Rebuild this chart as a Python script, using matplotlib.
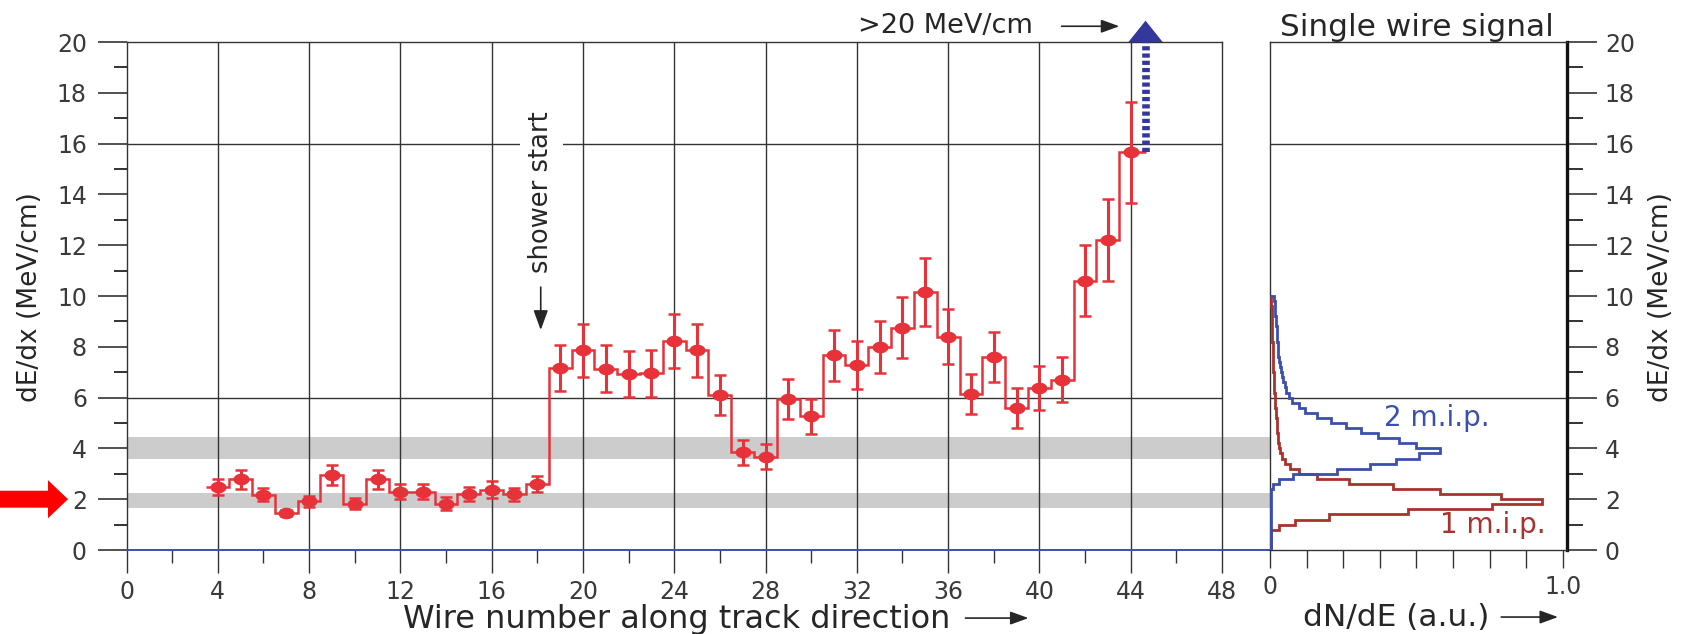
import numpy as np
import matplotlib
matplotlib.use("Agg")
import matplotlib.pyplot as plt
from matplotlib.transforms import blended_transform_factory
from matplotlib.patches import Rectangle, Polygon
from matplotlib.lines import Line2D
from matplotlib.ticker import FixedLocator

# ---- dE/dx measured on each wire along the track ----
wire = np.arange(4, 45)
dedx = [2.49, 2.78, 2.18, 1.45, 1.92, 2.95, 1.83, 2.78, 2.30, 2.30,
        1.83, 2.20, 2.38, 2.20, 2.60, 7.17, 7.86, 7.14, 6.92, 6.95,
        8.22, 7.86, 6.10, 3.84, 3.68, 5.95, 5.26, 7.66, 7.28, 7.99,
        8.75, 10.15, 8.40, 6.14, 7.60, 5.59, 6.38, 6.71, 10.60, 12.20,
        15.65]
dedx_err = [0.32, 0.36, 0.26, 0.13, 0.22, 0.38, 0.22, 0.37, 0.30, 0.28,
            0.24, 0.28, 0.32, 0.26, 0.33, 0.92, 1.04, 0.93, 0.90, 0.93,
            1.07, 1.05, 0.80, 0.50, 0.50, 0.78, 0.70, 1.00, 0.95, 1.04,
            1.20, 1.35, 1.08, 0.80, 1.00, 0.77, 0.85, 0.90, 1.40, 1.60,
            2.00]
overflow_x = 44.65          # last wire saturates: >20 MeV/cm

# ---- single wire signal: dN/dE (a.u.) in dE/dx bins ----
sig_edges = np.arange(0, 10.01, 0.2)
mip1 = [0.003, 0.003, 0.003, 0.004, 0.030, 0.085, 0.20, 0.47, 0.76, 0.93,
        0.79, 0.58, 0.42, 0.27, 0.16, 0.10, 0.068, 0.050, 0.040, 0.034,
        0.031, 0.029, 0.027, 0.025, 0.024, 0.023, 0.021, 0.020, 0.018, 0.017,
        0.016, 0.015, 0.014, 0.013, 0.012, 0.011, 0.011, 0.010, 0.010, 0.009,
        0.009, 0.008, 0.008, 0.007, 0.007, 0.006, 0.006, 0.006, 0.005, 0.005]
mip2 = [0.004, 0.004, 0.004, 0.004, 0.004, 0.004, 0.004, 0.004, 0.004, 0.004,
        0.004, 0.004, 0.010, 0.030, 0.080, 0.23, 0.34, 0.43, 0.51, 0.58,
        0.50, 0.44, 0.37, 0.31, 0.26, 0.21, 0.16, 0.12, 0.10, 0.075,
        0.065, 0.055, 0.050, 0.045, 0.040, 0.036, 0.033, 0.030, 0.028, 0.027,
        0.026, 0.025, 0.024, 0.023, 0.021, 0.020, 0.018, 0.017, 0.016, 0.015]

# reference bands (1 and 2 m.i.p.)
bands = [(1.67, 2.23), (3.60, 4.43)]

x_ticks = np.arange(0, 49, 4)
y_ticks = np.arange(0, 21, 2)

RED = '#e8323a'
DARKRED = '#a8322d'
BLUE = '#3a4fae'
NAVY = '#34389a'
GRID = '#333333'
TXT = '#262626'
TICKC = '#3a3a3a'

plt.rcParams['font.family'] = ['DejaVu Sans']

W, H = 1682, 634
fig = plt.figure(figsize=(W / 100, H / 100), dpi=100)
fig.patch.set_facecolor('white')

ax = fig.add_axes([126.5 / W, 84 / H, 1095.5 / W, 508 / H])
ax2 = fig.add_axes([1270 / W, 84 / H, 296.7 / W, 508 / H])

ARROW = dict(arrowstyle='-|>,head_length=0.55,head_width=0.2', color=TXT,
             lw=1.2, shrinkA=0, shrinkB=0, mutation_scale=20)

# ------------------------------------------------------------ left panel
ax.set_xlim(0, 48)
ax.set_ylim(0, 20)
ax.set_xticks(x_ticks)
ax.set_xticks(np.arange(2, 48, 4), minor=True)
ax.set_yticks(y_ticks)
ax.set_yticks(np.arange(1, 20, 2), minor=True)
ax.tick_params(axis='x', which='major', direction='out', length=16.5, width=1.0,
               pad=5, labelsize=17, labelcolor=TICKC, color=GRID)
ax.tick_params(axis='x', which='minor', direction='out', length=9.4, width=1.0, color=GRID)
ax.tick_params(axis='y', which='major', direction='out', length=21, width=1.2,
               pad=7.5, labelsize=17, labelcolor=TICKC, color=GRID)
ax.tick_params(axis='y', which='minor', direction='out', length=9.1, width=1.4, color=GRID)
for s in ('top', 'right', 'left'):
    ax.spines[s].set_linewidth(1.0)
    ax.spines[s].set_color(GRID)
ax.spines['bottom'].set_visible(False)

for xv in x_ticks[1:-1]:
    ax.axvline(xv, color=GRID, lw=1.0, zorder=1)
for yv in (6, 16):
    ax.axhline(yv, color=GRID, lw=1.0, zorder=1)

# bands and baseline run through the gap up to the signal panel
trans = blended_transform_factory(fig.transFigure, ax.transData)
x_start = ax.get_position().x0
x_end = ax2.get_position().x0
for lo, hi in bands:
    ax.add_patch(Rectangle((x_start, lo), x_end - x_start, hi - lo, transform=trans,
                           facecolor='#cccccc', edgecolor='none', zorder=0.5, clip_on=False))
ax.add_line(Line2D([x_start, x_end], [0, 0], transform=trans, color=BLUE, lw=1.4,
                   zorder=3, clip_on=False))

# red marker arrow at the 1 m.i.p. level
ax.annotate('', xy=(68 / W, 2), xycoords=trans, xytext=(0.0, 2), textcoords=trans,
            arrowprops=dict(arrowstyle='simple,head_length=1.44,head_width=2.74,tail_width=1.22',
                            fc='#ff0000', ec='none', mutation_scale=10, shrinkA=0, shrinkB=0),
            annotation_clip=False)

# measured dE/dx
edges = np.append(wire - 0.5, overflow_x)
ax.stairs(dedx, edges, baseline=None, color=RED, lw=1.8, zorder=4)
ax.errorbar(wire, dedx, yerr=dedx_err, fmt='none', ecolor=RED, elinewidth=2.2,
            capsize=4, capthick=1.8, zorder=5)
t = np.linspace(0, 2 * np.pi, 40)
ellipse = np.column_stack([np.cos(t), 0.7 * np.sin(t)])
ax.plot(wire, dedx, ls='none', marker=ellipse, ms=10.5, color=RED, zorder=6)

# saturated last wire
ax.plot([overflow_x, overflow_x], [dedx[-1], 20], color=NAVY, lw=5.5,
        ls=(0, (0.55, 0.4)), dash_capstyle='butt', clip_on=False, zorder=6)
ax.add_patch(Polygon([[overflow_x - 0.75, 20], [overflow_x + 0.75, 20], [overflow_x, 20.84]],
                     closed=True, facecolor=NAVY, edgecolor='none', clip_on=False, zorder=7))
ax.text(35.9, 20.35, '>20 MeV/cm', ha='center', va='baseline', fontsize=19.5, color=TXT)
ax.annotate('', xy=(43.5, 20.62), xytext=(40.97, 20.62), arrowprops=ARROW,
            annotation_clip=False)

# shower start marker
ax.text(18.18, 14.07, 'shower start', rotation=90, ha='center', va='center',
        fontsize=18.5, color=TXT, zorder=3,
        bbox=dict(facecolor='white', edgecolor='none', pad=6))
ax.annotate('', xy=(18.15, 8.66), xytext=(18.15, 10.35),
            arrowprops=dict(arrowstyle='-|>,head_length=0.6,head_width=0.22', color=TXT,
                            lw=1.2, shrinkA=0, shrinkB=0, mutation_scale=20))

# axis labels
ax.text(24.09, -3.07, 'Wire number along track direction', ha='center', va='baseline',
        fontsize=23, color=TXT, clip_on=False)
ax.annotate('', xy=(39.52, -2.68), xytext=(36.76, -2.68), arrowprops=ARROW,
            annotation_clip=False)
fig.text(30 / W, 1 - 297.5 / H, 'dE/dx (MeV/cm)', rotation=90, ha='center', va='center',
         fontsize=19, color=TXT)

# ------------------------------------------------------------ right panel
ax2.set_xlim(0, 1.0137)
ax2.set_ylim(0, 20)
sig_ticks = np.arange(0, 1.001, 0.125)
ax2.xaxis.set_major_locator(FixedLocator(sig_ticks))
ax2.set_xticklabels(['0'] + [''] * (len(sig_ticks) - 2) + ['1.0'])
ax2.yaxis.tick_right()
ax2.set_yticks(y_ticks)
ax2.set_yticks(np.arange(1, 20, 2), minor=True)
ax2.tick_params(axis='x', which='major', direction='out', length=13, width=1.0,
                pad=5, labelsize=17, labelcolor=TICKC, color=GRID)
ax2.tick_params(axis='y', which='major', direction='out', length=21.6, width=1.2,
                pad=5.8, labelsize=17, labelcolor=TICKC, color=GRID)
ax2.tick_params(axis='y', which='minor', direction='out', length=11.5, width=1.4, color=GRID)
for s in ('top', 'left', 'bottom'):
    ax2.spines[s].set_linewidth(1.0)
    ax2.spines[s].set_color(GRID)
ax2.spines['right'].set_linewidth(2.4)
ax2.spines['right'].set_color('#111111')
for yv in (6, 16):
    ax2.axhline(yv, color=GRID, lw=1.0, zorder=1)

ax2.stairs(mip1, sig_edges, orientation='horizontal', baseline=0, color=DARKRED, lw=2.0, zorder=3)
ax2.stairs(mip2, sig_edges, orientation='horizontal', baseline=0, color=BLUE, lw=2.0, zorder=4)
ax2.text(0.57, 5.2, '2 m.i.p.', color=BLUE, fontsize=20, ha='center', va='center')
ax2.text(0.76, 1.0, '1 m.i.p.', color=DARKRED, fontsize=20, ha='center', va='center')

ax2.text(0.502, 20.25, 'Single wire signal', ha='center', va='baseline', fontsize=22.5,
         color=TXT, clip_on=False)
ax2.text(0.432, -3.0, 'dN/dE (a.u.)', ha='center', va='baseline', fontsize=22.5,
         color=TXT, clip_on=False)
ax2.annotate('', xy=(0.984, -2.64), xytext=(0.79, -2.64), arrowprops=ARROW,
             annotation_clip=False)
fig.text(1661 / W, 1 - 297 / H, 'dE/dx (MeV/cm)', rotation=90, ha='center', va='center',
         fontsize=19, color=TXT)

fig.savefig('out.png', dpi=100)
